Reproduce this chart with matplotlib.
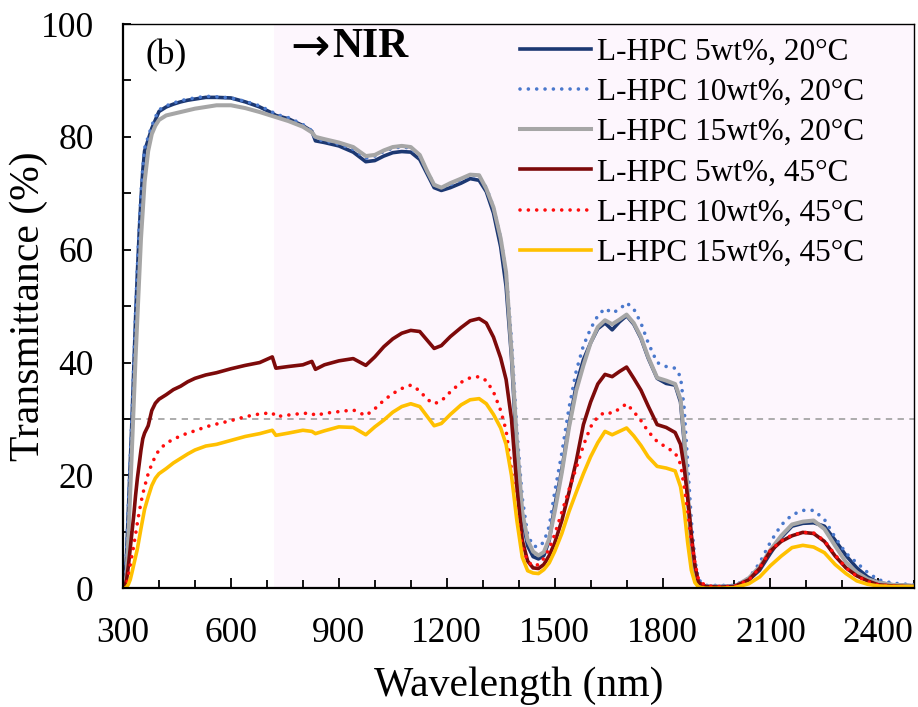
import matplotlib

matplotlib.use("Agg")
import matplotlib.pyplot as plt
from matplotlib.ticker import MultipleLocator

plt.rcParams["font.family"] = ["Liberation Serif", "DejaVu Serif"]

# wavelength grid (nm)
wavelength = [
    300, 305, 310, 315, 320, 325, 330, 335, 340, 345, 350, 355, 360,
    370, 380, 390, 400, 420, 440, 460, 480, 500, 530, 560, 600, 640, 680, 715, 725,
    760, 800, 825, 835, 860, 900, 940, 975, 1000, 1025, 1050, 1075, 1100, 1125,
    1145, 1165, 1185, 1210, 1240, 1265, 1290,
    1310, 1330, 1350, 1365, 1380, 1395, 1410, 1425, 1440, 1455, 1470, 1485,
    1500, 1520, 1540, 1560, 1580, 1600, 1620, 1640, 1660, 1680, 1700, 1720, 1740,
    1760, 1785, 1810, 1835,
    1850, 1860, 1870, 1880, 1890, 1900, 1920, 1960,
    2000, 2040, 2070, 2100, 2130, 2160, 2190, 2220, 2250, 2280, 2310, 2340, 2370,
    2400, 2440, 2480, 2500,
]

# transmittance (%) per sample
t_5wt_20 = [
    0, 0.5, 6, 14, 22, 30, 39, 48, 56, 63, 69, 74, 77.5,
    79.5, 81.5, 83, 84.5, 85.3, 85.8, 86.2, 86.5, 86.7, 87.0, 87.0, 86.9, 86.2, 85.3, 84.2, 83.8,
    83.2, 82.0, 81.0, 79.3, 79.0, 78.4, 77.3, 75.6, 75.8, 76.6, 77.2, 77.4, 77.3, 76.0,
    73.5, 71.0, 70.5, 71.0, 71.8, 72.6, 72.3,
    70.3, 66.5, 60.5, 53.5, 41, 24, 12.5, 7.5, 5.6, 5.2, 5.8, 8.5,
    14.5, 21, 29, 36, 40.5, 43.5, 46, 47, 45.8, 47.2, 48.3, 46.8, 44.3,
    40.8, 37.2, 36.3, 36.0,
    33, 26, 16, 8, 3, 0.6, 0.3, 0.3,
    0.4, 1.5, 3.2, 6.2, 9.0, 11.0, 11.5, 11.6, 11.0, 8.5, 5.8, 3.6, 2.0,
    1.0, 0.6, 0.5, 0.4,
]
t_10wt_20 = [
    0, 0.8, 7, 15, 23, 31, 40, 49, 57, 64, 70, 74.5, 78,
    80, 82, 83.5, 84.8, 85.5, 86.0, 86.4, 86.7, 86.9, 87.2, 87.1, 86.9, 86.3, 85.5, 84.4, 84.0,
    83.4, 82.2, 81.1, 79.6, 79.3, 78.7, 77.8, 76.2, 76.6, 77.4, 78.0, 78.2, 78.0, 76.5,
    74.0, 71.5, 71.0, 71.5, 72.4, 73.2, 73.0,
    71.0, 67.5, 62, 56, 44, 28, 16, 9.5, 7.5, 7.3, 8.2, 11.0,
    17, 24, 32, 38.5, 43, 46, 48.3, 49.6, 48.8, 49.4, 50.6, 49.5, 47.0,
    43.5, 40.0, 39.3, 39.0,
    37.5, 32, 22, 12, 5, 1.5, 0.5, 0.5,
    0.5, 1.8, 4.5, 8.2, 11.2, 13.0, 13.8, 13.8, 12.2, 9.0, 6.2, 4.5, 2.8,
    1.5, 0.9, 0.7, 0.6,
]
t_15wt_20 = [
    0, 0.2, 2.5, 9, 17, 25, 33, 41, 48, 55, 62, 67, 72,
    77.5, 80.5, 82.0, 83.0, 83.8, 84.1, 84.4, 84.7, 85.0, 85.3, 85.6, 85.6, 85.1, 84.4, 83.7, 83.5,
    82.8, 81.8, 80.8, 80.0, 79.6, 79.0, 78.2, 76.6, 76.8, 77.6, 78.2, 78.4, 78.2, 76.8,
    74.0, 71.5, 71.0, 71.8, 72.6, 73.3, 73.2,
    70.8, 67.5, 62, 56, 42, 26, 13.5, 8.5, 6.5, 5.8, 6.4, 8.8,
    13.5, 20.5, 28.5, 35, 39.5, 43.5, 46.3, 47.5, 46.8, 47.6, 48.5, 47, 44.5,
    41, 37.3, 36.8, 36.2,
    33.5, 27, 17, 8.5, 3, 0.6, 0.3, 0.3,
    0.3, 1.8, 3.8, 6.8, 9.3, 11.3, 11.8, 12.0, 10.5, 7.5, 4.6, 2.8, 1.6,
    1.0, 0.6, 0.5, 0.4,
]
t_5wt_45 = [
    0, 0.3, 1.5, 4, 7, 10, 13, 16.5, 19.5, 22, 24.5, 26.5, 27.5,
    28.8, 31.5, 32.8, 33.5, 34.3, 35.2, 35.8, 36.6, 37.2, 37.8, 38.2, 38.9, 39.5, 40.0, 41.0, 39.0,
    39.3, 39.6, 40.2, 38.8, 39.6, 40.3, 40.7, 39.5, 41.0, 42.8, 44.2, 45.2, 45.7, 45.5,
    44.0, 42.5, 43.0, 44.6, 46.2, 47.4, 47.8,
    47.0, 44.5, 40.8, 37.0, 30.0, 18.0, 8.5, 4.8, 3.6, 3.5, 4.2, 5.8,
    8.0, 12.0, 17.0, 22.5, 29.0, 33.0, 36.2, 37.9, 37.5, 38.4, 39.2, 37.2, 35.1,
    32.3, 29.0, 28.5, 27.6,
    25.5, 21.5, 16.0, 9.5, 4.0, 1.0, 0.3, 0.2,
    0.3, 1.5, 3.5, 6.6, 8.3, 9.3, 9.9, 9.7, 8.3, 5.7, 3.6, 2.2, 1.3,
    0.6, 0.4, 0.3, 0.3,
]
t_10wt_45 = [
    0, 0.2, 0.8, 2.2, 4.0, 5.8, 7.6, 9.6, 11.6, 13.5, 15.2, 16.7, 18.0,
    20.3, 22.0, 23.4, 24.5, 25.7, 26.4, 27.0, 27.5, 27.9, 28.6, 29.1, 29.7, 30.4, 30.9, 31.1, 30.4,
    30.7, 31.0, 31.0, 30.6, 31.0, 31.3, 31.6, 30.6, 31.8, 33.3, 34.5, 35.4, 36.0, 35.0,
    33.5, 32.7, 33.2, 34.8, 36.5, 37.3, 37.5,
    36.8, 34.8, 31.5, 28.0, 21.0, 13.0, 7.3, 4.8, 3.9, 4.2, 5.3, 7.0,
    9.5, 13.5, 17.5, 21.3, 25.3, 28.6, 30.4, 31.2, 31.0, 31.8, 32.7, 31.3, 29.7,
    27.8, 26.0, 25.0, 24.0,
    22.0, 18.0, 13.5, 8.5, 4.5, 1.5, 0.4, 0.3,
    0.3, 1.5, 3.6, 6.7, 8.4, 9.4, 9.9, 9.8, 8.4, 5.9, 3.6, 2.1, 1.2,
    0.6, 0.4, 0.3, 0.3,
]
t_15wt_45 = [
    0, 0, 0.2, 0.7, 1.5, 2.8, 4.2, 5.6, 7.0, 8.8, 10.6, 12.3, 14.0,
    16.2, 18.2, 19.5, 20.3, 21.2, 22.2, 23.0, 23.8, 24.5, 25.2, 25.5, 26.2, 26.9, 27.4, 28.0, 27.1,
    27.5, 28.0, 27.8, 27.4, 27.9, 28.6, 28.5, 27.2, 28.6, 29.8, 31.2, 32.2, 32.7, 32.2,
    30.5, 28.8, 29.2, 30.8, 32.5, 33.4, 33.6,
    32.7, 30.8, 28.4, 25.5, 20.0, 12.0, 5.5, 3.1, 2.7, 2.6, 3.3, 4.5,
    6.5, 9.7, 13.6, 17.0, 20.3, 23.3, 25.8, 27.8, 27.2, 27.8, 28.4, 27.0, 25.3,
    23.3, 21.6, 21.3, 20.8,
    18.0, 14.0, 8.0, 3.2, 1.0, 0.2, 0.0, 0.0,
    0.1, 0.8, 2.0, 4.0, 5.7, 7.2, 7.6, 7.3, 6.3, 4.2, 2.6, 1.3, 0.7,
    0.4, 0.3, 0.3, 0.3,
]

labels = [
    "L-HPC 5wt%, 20°C",
    "L-HPC 10wt%, 20°C",
    "L-HPC 15wt%, 20°C",
    "L-HPC 5wt%, 45°C",
    "L-HPC 10wt%, 45°C",
    "L-HPC 15wt%, 45°C",
]

NIR_START = 720
DOT = (0, (0.01, 2.3))

series = [
    (t_5wt_20, dict(color="#1c3872", lw=2.6)),
    (t_10wt_20, dict(color="#4a78cc", lw=2.6, ls=DOT, dash_capstyle="round")),
    (t_15wt_20, dict(color="#a6a6a6", lw=2.9)),
    (t_5wt_45, dict(color="#7d0a0a", lw=2.6)),
    (t_10wt_45, dict(color="#ff0d0d", lw=2.6, ls=DOT, dash_capstyle="round")),
    (t_15wt_45, dict(color="#ffc000", lw=2.6)),
]

fig = plt.figure(figsize=(9.18, 7.07), dpi=100)
ax = fig.add_axes([0.134, 0.168, 0.862, 0.798])

ax.axvspan(NIR_START, 2500, color="#fdf6fd", lw=0, zorder=0)
ax.axhline(30, color="#a6a6a6", lw=1.3, dashes=(3.5, 3), zorder=1)

for (vals, kw), lab in zip(series, labels):
    ax.plot(wavelength, vals, label=lab, zorder=2, **kw)

ax.set_xlim(300, 2500)
ax.set_ylim(0, 100)
ax.xaxis.set_major_locator(MultipleLocator(300))
ax.xaxis.set_minor_locator(MultipleLocator(100))
ax.yaxis.set_major_locator(MultipleLocator(20))
ax.yaxis.set_minor_locator(MultipleLocator(10))
ax.tick_params(axis="both", which="both", direction="in", labelsize=25.5, pad=21,
               width=1.3, top=False, right=False)
ax.tick_params(axis="x", which="major", length=7.5)
ax.tick_params(axis="x", which="minor", length=5.5)
ax.tick_params(axis="y", which="both", length=6)

for side in ["left", "bottom"]:
    ax.spines[side].set_linewidth(1.6)
for side in ["top", "right"]:
    ax.spines[side].set_linewidth(1.0)

ax.set_xlabel("Wavelength (nm)", fontsize=30, va="center")
ax.set_ylabel("Transmittance (%)", fontsize=30, va="center")
ax.xaxis.set_label_coords(0.5, -0.173)
ax.yaxis.set_label_coords(-0.119, 0.5)

ax.text(0.029, 0.943, "(b)", transform=ax.transAxes, fontsize=25.5, va="center", ha="left")
ax.text(0.212, 0.957, "→", transform=ax.transAxes, fontsize=34, family=["DejaVu Sans"],
        va="center", ha="left")
ax.text(0.265, 0.959, "NIR", transform=ax.transAxes, fontsize=30, fontweight="bold",
        va="center", ha="left")

ax.legend(loc="upper left", bbox_to_anchor=(0.502, 0.976), frameon=False, fontsize=22.5,
          handlelength=2.25, handletextpad=0.2, labelspacing=0.36, borderpad=0,
          borderaxespad=0)

fig.savefig("out.png", dpi=100)
